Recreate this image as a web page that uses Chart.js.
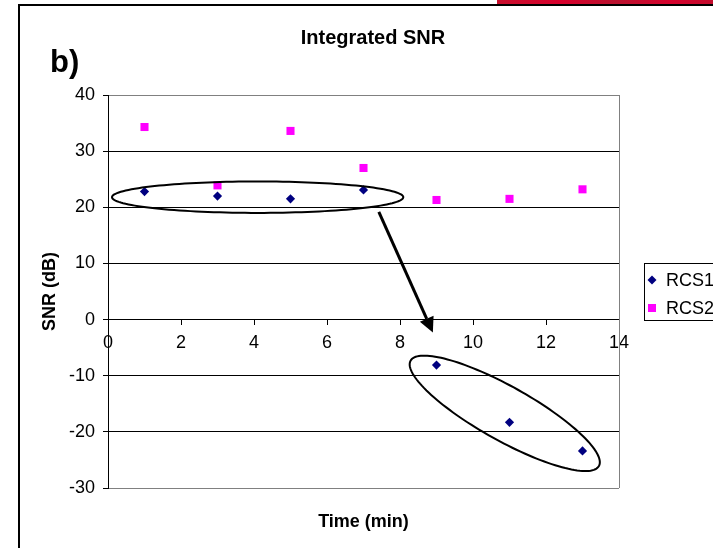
<!DOCTYPE html>
<html>
<head>
<meta charset="utf-8">
<title>Integrated SNR</title>
<script src="https://cdn.jsdelivr.net/npm/chart.js@4.4.1/dist/chart.umd.min.js"></script>
<style>
  html, body { margin: 0; padding: 0; background: #fff; }
  #page { position: relative; width: 713px; height: 548px; overflow: hidden; }
  #frame { position: absolute; left: 18px; top: 4px; right: -10px; bottom: -10px;
           border-left: 2px solid #000; border-top: 2px solid #000; }
  #bar { position: absolute; left: 497px; top: 0; width: 216px; height: 4px;
         background: linear-gradient(90deg, #c8102e, #d8002c 30%, #b9132f 55%, #d6022d 80%, #c30c2d); }
  #chart { position: absolute; left: 0; top: 0; }
</style>
</head>
<body>
<div id="page">
  <div id="frame"></div>
  <div id="bar"></div>
  <canvas id="chart" width="713" height="548"></canvas>
</div>
<script>
// values
const timeMin = [1, 3, 5, 7, 9, 11, 13];
const rcs1 = [22.8, 22.0, 21.5, 23.1, -8.1, -18.3, -23.4];
const rcs2 = [34.3, 23.9, 33.6, 27.0, 21.3, 21.5, 23.2];
const seriesNames = ['RCS1', 'RCS2'];
const xTicks = [0, 14, 2];   // min, max, step
const yTicks = [-30, 40, 10];

// hand-drawn annotations, in data units
const ellipses = [
  { cx: 4.1, cy: 21.8, ax: 3.99, ay: 0, bx: 0, by: 2.8 },
  { cx: 10.87, cy: -16.7, ax: 2.58, ay: -9.38, bx: -0.36, by: -4.2 }
];
const arrow = { from: [7.42, 19.2], to: [8.9, -2.3] };

const FONT = "'Liberation Sans', Arial, sans-serif";

const pts = (ys) => timeMin.map((t, i) => ({ x: t, y: ys[i] }));

const extras = {
  id: 'extras',
  beforeDatasetsDraw(chart) {
    const { ctx, chartArea: a } = chart;
    ctx.save();
    ctx.strokeStyle = '#808080';
    ctx.lineWidth = 1;
    ctx.beginPath();
    ctx.moveTo(Math.round(a.right) + 0.5, a.top);
    ctx.lineTo(Math.round(a.right) + 0.5, a.bottom);
    ctx.stroke();
    ctx.restore();
  },
  afterDatasetsDraw(chart) {
    const { ctx, scales: { x, y } } = chart;
    ctx.save();
    ctx.strokeStyle = '#000';
    ctx.lineWidth = 2;
    ellipses.forEach(e => {
      ctx.beginPath();
      for (let i = 0; i <= 144; i++) {
        const t = i / 144 * 2 * Math.PI;
        const px = x.getPixelForValue(e.cx + e.ax * Math.cos(t) + e.bx * Math.sin(t));
        const py = y.getPixelForValue(e.cy + e.ay * Math.cos(t) + e.by * Math.sin(t));
        if (i) ctx.lineTo(px, py); else ctx.moveTo(px, py);
      }
      ctx.closePath();
      ctx.stroke();
    });

    // arrow
    const x0 = x.getPixelForValue(arrow.from[0]), y0 = y.getPixelForValue(arrow.from[1]);
    const x1 = x.getPixelForValue(arrow.to[0]), y1 = y.getPixelForValue(arrow.to[1]);
    const ang = Math.atan2(y1 - y0, x1 - x0);
    const headLen = 15, headW = 7.5;
    const bx = x1 - headLen * Math.cos(ang), by = y1 - headLen * Math.sin(ang);
    ctx.lineWidth = 3;
    ctx.beginPath();
    ctx.moveTo(x0, y0);
    ctx.lineTo(bx, by);
    ctx.stroke();
    ctx.fillStyle = '#000';
    ctx.beginPath();
    ctx.moveTo(x1, y1);
    ctx.lineTo(bx - headW * Math.sin(ang), by + headW * Math.cos(ang));
    ctx.lineTo(bx + headW * Math.sin(ang), by - headW * Math.cos(ang));
    ctx.closePath();
    ctx.fill();
    ctx.restore();
  },
  afterDraw(chart) {
    const { ctx, chartArea: a } = chart;
    ctx.save();
    ctx.fillStyle = '#000';
    ctx.textBaseline = 'alphabetic';

    ctx.font = 'bold 20px ' + FONT;
    ctx.textAlign = 'center';
    ctx.fillText('Integrated SNR', 373, 44);

    ctx.font = 'bold 18px ' + FONT;
    ctx.fillText('Time (min)', (a.left + a.right) / 2, 527);

    ctx.font = 'bold 31px ' + FONT;
    ctx.textAlign = 'left';
    ctx.fillText('b)', 50, 72);

    // legend
    ctx.fillStyle = '#fff';
    ctx.fillRect(644, 263, 90, 58);
    ctx.strokeStyle = '#000';
    ctx.lineWidth = 1;
    ctx.strokeRect(644.5, 263.5, 90, 57);
    ctx.font = '18px ' + FONT;
    ctx.textBaseline = 'middle';
    chart.data.datasets.forEach((ds, i) => {
      const cy = 280 + i * 28, cx = 652;
      ctx.fillStyle = ds.backgroundColor;
      ctx.beginPath();
      if (ds.pointStyle === 'rectRot') {
        ctx.moveTo(cx - 4.5, cy); ctx.lineTo(cx, cy - 4.5);
        ctx.lineTo(cx + 4.5, cy); ctx.lineTo(cx, cy + 4.5);
      } else {
        ctx.rect(cx - 4, cy - 4, 8, 8);
      }
      ctx.closePath();
      ctx.fill();
      ctx.fillStyle = '#000';
      ctx.fillText(ds.label, 666, cy + 1);
    });
    ctx.restore();
  }
};

new Chart(document.getElementById('chart'), {
  type: 'scatter',
  data: {
    datasets: [
      {
        label: seriesNames[0],
        data: pts(rcs1),
        pointStyle: 'rectRot',
        pointRadius: 4.6,
        borderWidth: 0,
        backgroundColor: '#000080',
        borderColor: '#000080'
      },
      {
        label: seriesNames[1],
        data: pts(rcs2),
        pointStyle: 'rect',
        pointRadius: 5.7,
        borderWidth: 0,
        backgroundColor: '#ff00ff',
        borderColor: '#ff00ff'
      }
    ]
  },
  options: {
    responsive: false,
    animation: false,
    events: [],
    layout: { padding: { left: 39, right: 94, top: 95, bottom: 60 } },
    plugins: {
      legend: { display: false },
      title: { display: false },
      tooltip: { enabled: false }
    },
    scales: {
      x: {
        type: 'linear',
        position: { y: 0 },
        min: xTicks[0],
        max: xTicks[1],
        ticks: { stepSize: xTicks[2], color: '#000', padding: 8, font: { family: FONT, size: 18 } },
        grid: { drawOnChartArea: false, drawTicks: true, tickLength: 5, tickColor: '#000' },
        border: { display: true, color: '#000', width: 1 }
      },
      y: {
        type: 'linear',
        min: yTicks[0],
        max: yTicks[1],
        afterFit: (scale) => { scale.width = 69; },
        ticks: { stepSize: yTicks[2], color: '#000', padding: 8, font: { family: FONT, size: 18 } },
        grid: {
          color: (c) => (c.tick && (c.tick.value === yTicks[0] || c.tick.value === yTicks[1])) ? '#808080' : '#000',
          tickColor: '#000',
          tickLength: 5,
          lineWidth: 1
        },
        border: { display: true, color: '#000', width: 1 },
        title: {
          display: true,
          text: 'SNR (dB)',
          color: '#000',
          padding: { top: 0, bottom: 0 },
          font: { family: FONT, size: 18, weight: 'bold' }
        }
      }
    }
  },
  plugins: [extras]
});
</script>
</body>
</html>
